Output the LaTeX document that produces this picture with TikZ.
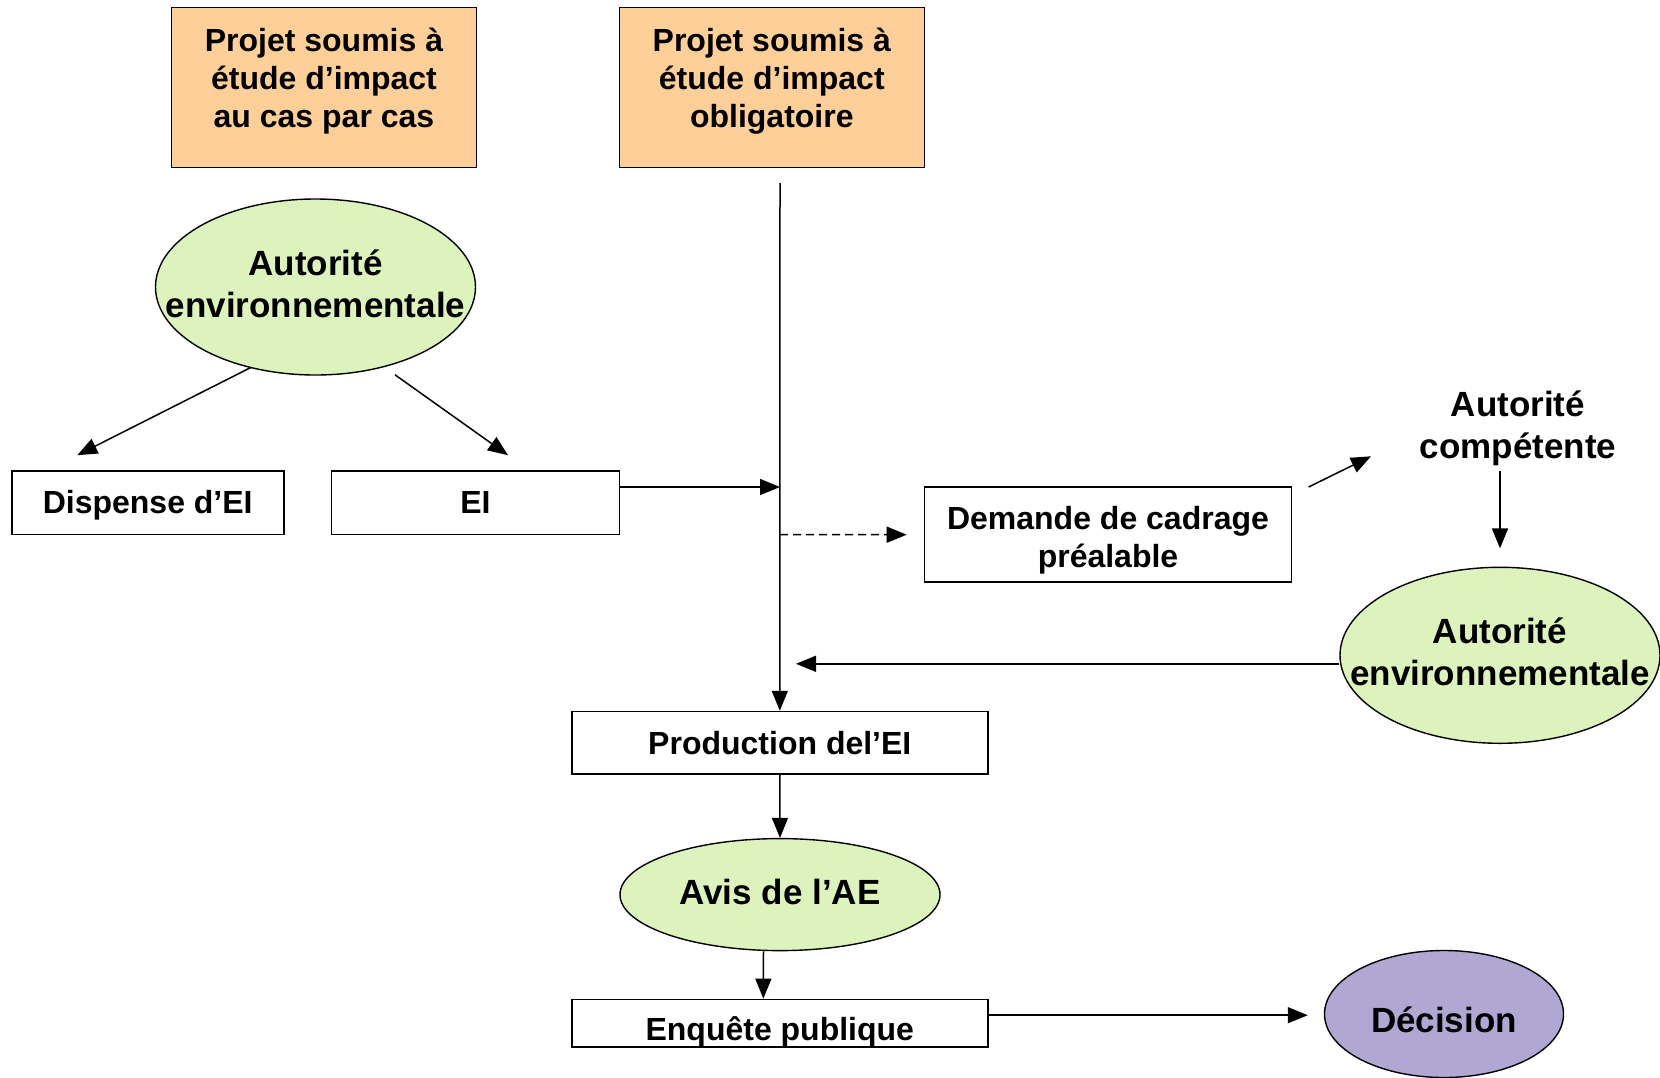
\documentclass[tikz,border=0pt]{standalone}
\usepackage{fontspec}
\setmainfont{Liberation Sans}
\usetikzlibrary{arrows.meta,shapes.geometric}
\definecolor{peach}{HTML}{FFCF99}
\definecolor{lgreen}{HTML}{DCF3BE}
\definecolor{lpurple}{HTML}{B0A8D2}
\begin{document}
\begin{tikzpicture}[x=1pt,y=-1pt,
  every node/.style={font=\fontsize{32}{38}\selectfont\bfseries, align=center, inner sep=0pt},
  bigtext/.style={font=\fontsize{35}{42}\selectfont\bfseries},
  box/.style={draw, line width=1.6pt, rectangle},
  projbox/.style={box, fill=peach, minimum width=305pt, minimum height=160pt},
  wbox/.style={box, fill=white},
  oval/.style={draw, line width=1.4pt, ellipse, fill=lgreen},
  conn/.style={line width=1.5pt, -{Triangle[length=20pt,width=16pt]}},
]
\useasboundingbox (0,0) rectangle (1660,1077);
\fill[white] (0,0) rectangle (1660,1077);

\node[projbox, label={[yshift=6pt,align=center]center:Projet soumis à\\étude d’impact\\au cas par cas}] (p1) at (324,87.4) {};
\node[projbox, label={[yshift=6pt,align=center]center:Projet soumis à\\étude d’impact\\obligatoire}] (p2) at (771.8,87.4) {};

\node[oval, minimum width=320pt, minimum height=176pt, label={[bigtext,align=center,yshift=3pt]center:Autorité\\environnementale}] (ae1) at (315.5,287) {};
\node[wbox, minimum width=272pt, minimum height=63.6pt, label={[yshift=-2pt]center:Dispense d’EI}] (disp) at (147.7,502.8) {};
\node[wbox, minimum width=288pt, minimum height=63.6pt] (ei) at (475.4,502.8) {EI};
\node[wbox, minimum width=367pt, minimum height=95pt, label={[align=center,yshift=-6pt]center:Demande de cadrage\\préalable}] (dem) at (1108,534.7) {};
\node[bigtext] (ac) at (1518,428) {Autorité\\compétente};
\node[oval, minimum width=320pt, minimum height=176pt, label={[bigtext,align=center,yshift=3pt]center:Autorité\\environnementale}] (ae2) at (1500,655.3) {};
\node[wbox, minimum width=416pt, minimum height=62.5pt] (prod) at (779.8,742.8) {Production del’EI};
\node[oval, minimum width=320pt, minimum height=112pt, label={[bigtext,yshift=3pt]center:Avis de l’AE}] (avis) at (780,894.6) {};
\node[wbox, minimum width=416pt, minimum height=47.6pt, label={[yshift=-9pt]center:Enquête publique}] (enq) at (779.8,1023.2) {};
\node[oval, fill=lpurple, minimum width=239pt, minimum height=127pt, label={[bigtext,yshift=-6pt]center:Décision}] (dec) at (1444,1014) {};

% coordinates for free ends
\coordinate (a1s) at (251,367.4);
\coordinate (a1e) at (77.3,455.2);
\coordinate (a2s) at (395,374.8);
\coordinate (a2e) at (508,455.2);
\coordinate (mtop) at (780,183);
\coordinate (j1) at (780,487);
\coordinate (j2) at (780,534.6);
\coordinate (j3) at (796,663.8);
\coordinate (ds) at (1308.6,487);
\coordinate (de) at (1371,456.3);
\coordinate (acs) at (1500,471);
\coordinate (ace) at (1500,548.4);

\draw[conn] (a1s) -- (a1e);
\draw[conn] (a2s) -- (a2e);
\draw[conn] (mtop) -- (prod.north);
\draw[conn] (ei.east |- j1) -- (j1);
\draw[conn, dashed, dash pattern=on 8pt off 5pt] (j2) -- ([xshift=-17pt]dem.west);
\draw[conn] (ds) -- (de);
\draw[conn] (acs) -- (ace);
\draw[conn] (ae2.west |- j3) -- (j3);
\draw[conn] (prod.south) -- (avis.north);
\draw[conn] ([xshift=-16.5pt]avis.south) -- ([xshift=-16.5pt]enq.north);
\draw[conn] ([yshift=8pt]enq.east) -- ([xshift=-16pt,yshift=8pt]enq.east -| dec.west);
\end{tikzpicture}
\end{document}
